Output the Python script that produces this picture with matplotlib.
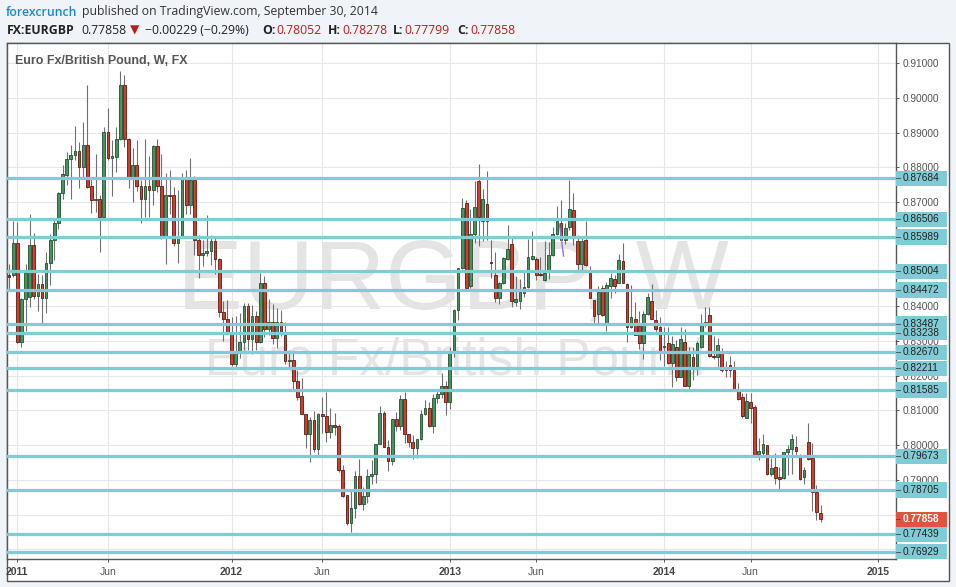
#!/usr/bin/env python3
"""EUR/GBP weekly candles with horizontal support / resistance levels (TradingView snapshot)."""
import numpy as np
import pandas as pd

import matplotlib
matplotlib.use("Agg")
import matplotlib.pyplot as plt
import matplotlib.transforms as mtransforms
from matplotlib.patches import Rectangle
from matplotlib.lines import Line2D

W, H = 956, 587

# weekly bars, first bar = week of 20 Dec 2010
first_week = "2010-12-20"

opens = [
    0.8490, 0.8489, 0.8583, 0.8297, 0.8420, 0.8427, 0.8576, 0.8430, 0.8463, 0.8425,
    0.8526, 0.8590, 0.8640, 0.8725, 0.8778, 0.8823, 0.8836, 0.8848, 0.8802, 0.8864,
    0.8746, 0.8706, 0.8708, 0.8658, 0.8903, 0.8828, 0.8830, 0.8881, 0.9038, 0.8881,
    0.8771, 0.8807, 0.8746, 0.8708, 0.8746, 0.8735, 0.8861, 0.8746, 0.8603, 0.8720,
    0.8720, 0.8583, 0.8600, 0.8773, 0.8693, 0.8765, 0.8590, 0.8549, 0.8553, 0.8559,
    0.8588, 0.8535, 0.8383, 0.8363, 0.8327, 0.8233, 0.8265, 0.8296, 0.8401, 0.8306,
    0.8372, 0.8298, 0.8466, 0.8334, 0.8356, 0.8308, 0.8354, 0.8318, 0.8241, 0.8245,
    0.8184, 0.8142, 0.8089, 0.8032, 0.8073, 0.7988, 0.8089, 0.8084, 0.8037, 0.8057,
    0.8055, 0.7928, 0.7856, 0.7775, 0.7818, 0.7911, 0.7830, 0.7854, 0.7911, 0.7917,
    0.8002, 0.8092, 0.7996, 0.7953, 0.8076, 0.8056, 0.8132, 0.8032, 0.8008, 0.7991,
    0.8018, 0.8089, 0.8106, 0.8055, 0.8135, 0.8147, 0.8169, 0.8125, 0.8269, 0.8389,
    0.8509, 0.8697, 0.8457, 0.8607, 0.8761, 0.8646, 0.8695, 0.8528, 0.8490, 0.8423,
    0.8466, 0.8535, 0.8578, 0.8411, 0.8416, 0.8437, 0.8455, 0.8535, 0.8535, 0.8493,
    0.8476, 0.8503, 0.8548, 0.8607, 0.8639, 0.8591, 0.8627, 0.8677, 0.8588, 0.8521,
    0.8591, 0.8495, 0.8418, 0.8377, 0.8452, 0.8353, 0.8458, 0.8479, 0.8466, 0.8530,
    0.8463, 0.8339, 0.8364, 0.8343, 0.8293, 0.8378, 0.8415, 0.8361, 0.8339, 0.8284,
    0.8295, 0.8238, 0.8282, 0.8197, 0.8296, 0.8169, 0.8253, 0.8229, 0.8284, 0.8346,
    0.8375, 0.8258, 0.8255, 0.8267, 0.8219, 0.8230, 0.8215, 0.8161, 0.8138, 0.8079,
    0.8123, 0.8110, 0.7974, 0.7977, 0.8001, 0.7916, 0.7938, 0.7909, 0.7905, 0.7979,
    0.7988, 0.7994, 0.7967, 0.7908, 0.8009, 0.7964, 0.7865, 0.78052,
]
highs = [
    0.8522, 0.8645, 0.8643, 0.8425, 0.8523, 0.8667, 0.8611, 0.8494, 0.8490, 0.8557,
    0.8609, 0.8655, 0.8730, 0.8807, 0.8845, 0.8864, 0.8919, 0.8874, 0.8931, 0.9038,
    0.8773, 0.8840, 0.8720, 0.8917, 0.8970, 0.8879, 0.8917, 0.9078, 0.9066, 0.8885,
    0.8855, 0.8879, 0.8765, 0.8881, 0.8832, 0.8864, 0.8881, 0.8838, 0.8785, 0.8792,
    0.8745, 0.8735, 0.8783, 0.8792, 0.8826, 0.8775, 0.8605, 0.8590, 0.8663, 0.8606,
    0.8603, 0.8540, 0.8414, 0.8418, 0.8370, 0.8372, 0.8380, 0.8409, 0.8409, 0.8404,
    0.8385, 0.8496, 0.8486, 0.8421, 0.8407, 0.8394, 0.8390, 0.8356, 0.8274, 0.8270,
    0.8217, 0.8193, 0.8089, 0.8080, 0.8099, 0.8092, 0.8140, 0.8152, 0.8106, 0.8092,
    0.8060, 0.7942, 0.7856, 0.7868, 0.7924, 0.7960, 0.7880, 0.7930, 0.7958, 0.8002,
    0.8113, 0.8097, 0.8015, 0.8076, 0.8095, 0.8144, 0.8152, 0.8032, 0.8029, 0.8018,
    0.8101, 0.8130, 0.8125, 0.8147, 0.8160, 0.8207, 0.8185, 0.8284, 0.8391, 0.8509,
    0.8713, 0.8706, 0.8679, 0.8761, 0.8810, 0.8737, 0.8790, 0.8591, 0.8557, 0.8471,
    0.8543, 0.8634, 0.8601, 0.8487, 0.8480, 0.8505, 0.8593, 0.8618, 0.8543, 0.8543,
    0.8588, 0.8586, 0.8629, 0.8689, 0.8706, 0.8639, 0.8764, 0.8727, 0.8605, 0.8598,
    0.8646, 0.8516, 0.8418, 0.8457, 0.8461, 0.8471, 0.8495, 0.8490, 0.8552, 0.8582,
    0.8466, 0.8461, 0.8413, 0.8386, 0.8387, 0.8439, 0.8464, 0.8389, 0.8368, 0.8341,
    0.8341, 0.8315, 0.8303, 0.8341, 0.8334, 0.8282, 0.8282, 0.8300, 0.8378, 0.8399,
    0.8399, 0.8313, 0.8308, 0.8279, 0.8241, 0.8257, 0.8243, 0.8180, 0.8149, 0.8149,
    0.8149, 0.8116, 0.8020, 0.8032, 0.8001, 0.7964, 0.7977, 0.7936, 0.7981, 0.8001,
    0.8032, 0.8025, 0.7975, 0.7936, 0.8063, 0.8007, 0.7885, 0.78278,
]
lows = [
    0.8448, 0.8484, 0.8295, 0.8283, 0.8330, 0.8398, 0.8421, 0.8387, 0.8353, 0.8381,
    0.8460, 0.8532, 0.8624, 0.8710, 0.8749, 0.8710, 0.8820, 0.8740, 0.8773, 0.8740,
    0.8670, 0.8673, 0.8556, 0.8654, 0.8822, 0.8717, 0.8787, 0.8879, 0.8860, 0.8741,
    0.8701, 0.8733, 0.8640, 0.8658, 0.8658, 0.8691, 0.8729, 0.8595, 0.8523, 0.8667,
    0.8574, 0.8526, 0.8598, 0.8667, 0.8667, 0.8547, 0.8482, 0.8515, 0.8544, 0.8520,
    0.8492, 0.8370, 0.8300, 0.8325, 0.8228, 0.8226, 0.8250, 0.8274, 0.8274, 0.8263,
    0.8274, 0.8295, 0.8311, 0.8318, 0.8292, 0.8279, 0.8315, 0.8234, 0.8224, 0.8161,
    0.8130, 0.8089, 0.7993, 0.7950, 0.7979, 0.7972, 0.8035, 0.8010, 0.8020, 0.8030,
    0.7923, 0.7850, 0.7770, 0.7751, 0.7790, 0.7828, 0.7814, 0.7832, 0.7887, 0.7890,
    0.8002, 0.7996, 0.7924, 0.7943, 0.8042, 0.8044, 0.8006, 0.7996, 0.7959, 0.7964,
    0.8015, 0.8087, 0.8053, 0.8034, 0.8121, 0.8135, 0.8088, 0.8103, 0.8255, 0.8361,
    0.8506, 0.8452, 0.8452, 0.8581, 0.8575, 0.8589, 0.8591, 0.8481, 0.8413, 0.8407,
    0.8464, 0.8533, 0.8397, 0.8401, 0.8391, 0.8428, 0.8452, 0.8533, 0.8476, 0.8487,
    0.8474, 0.8478, 0.8545, 0.8605, 0.8591, 0.8579, 0.8620, 0.8576, 0.8505, 0.8505,
    0.8516, 0.8423, 0.8353, 0.8353, 0.8373, 0.8330, 0.8423, 0.8437, 0.8466, 0.8466,
    0.8298, 0.8337, 0.8317, 0.8276, 0.8247, 0.8375, 0.8362, 0.8327, 0.8245, 0.8229,
    0.8234, 0.8166, 0.8186, 0.8196, 0.8169, 0.8163, 0.8188, 0.8202, 0.8279, 0.8341,
    0.8255, 0.8247, 0.8224, 0.8212, 0.8196, 0.8196, 0.8159, 0.8130, 0.8077, 0.8079,
    0.8063, 0.7967, 0.7957, 0.7972, 0.7914, 0.7911, 0.7888, 0.7873, 0.7902, 0.7914,
    0.7916, 0.7967, 0.7900, 0.7888, 0.7957, 0.7809, 0.7783, 0.77799,
]
closes = [
    0.8485, 0.8583, 0.8297, 0.8420, 0.8496, 0.8576, 0.8430, 0.8463, 0.8425, 0.8526,
    0.8590, 0.8640, 0.8725, 0.8781, 0.8823, 0.8836, 0.8848, 0.8802, 0.8864, 0.8744,
    0.8706, 0.8708, 0.8658, 0.8903, 0.8828, 0.8832, 0.8881, 0.9038, 0.8881, 0.8771,
    0.8807, 0.8746, 0.8708, 0.8746, 0.8735, 0.8861, 0.8746, 0.8600, 0.8720, 0.8719,
    0.8583, 0.8600, 0.8773, 0.8693, 0.8765, 0.8590, 0.8549, 0.8553, 0.8559, 0.8588,
    0.8535, 0.8383, 0.8363, 0.8327, 0.8233, 0.8265, 0.8297, 0.8401, 0.8306, 0.8372,
    0.8298, 0.8466, 0.8334, 0.8356, 0.8308, 0.8354, 0.8322, 0.8241, 0.8245, 0.8184,
    0.8140, 0.8089, 0.8032, 0.8073, 0.7988, 0.8089, 0.8084, 0.8037, 0.8057, 0.8053,
    0.7928, 0.7854, 0.7775, 0.7818, 0.7911, 0.7830, 0.7854, 0.7911, 0.7917, 0.8002,
    0.8092, 0.7996, 0.7953, 0.8076, 0.8056, 0.8132, 0.8032, 0.8008, 0.7991, 0.8018,
    0.8089, 0.8106, 0.8055, 0.8135, 0.8147, 0.8169, 0.8125, 0.8269, 0.8389, 0.8509,
    0.8682, 0.8452, 0.8607, 0.8687, 0.8656, 0.8708, 0.8646, 0.8524, 0.8423, 0.8466,
    0.8538, 0.8565, 0.8415, 0.8420, 0.8442, 0.8455, 0.8543, 0.8545, 0.8490, 0.8491,
    0.8495, 0.8548, 0.8607, 0.8647, 0.8591, 0.8625, 0.8679, 0.8603, 0.8521, 0.8588,
    0.8519, 0.8423, 0.8372, 0.8442, 0.8375, 0.8461, 0.8482, 0.8457, 0.8533, 0.8466,
    0.8341, 0.8368, 0.8318, 0.8293, 0.8378, 0.8428, 0.8362, 0.8334, 0.8272, 0.8286,
    0.8238, 0.8291, 0.8197, 0.8305, 0.8169, 0.8262, 0.8229, 0.8293, 0.8353, 0.8354,
    0.8258, 0.8255, 0.8289, 0.8217, 0.8217, 0.8215, 0.8161, 0.8132, 0.8084, 0.8128,
    0.8108, 0.7970, 0.7983, 0.8004, 0.7916, 0.7933, 0.7905, 0.7902, 0.7979, 0.7990,
    0.8019, 0.7984, 0.7902, 0.7927, 0.7959, 0.7866, 0.78087, 0.77858,
]

# horizontal levels drawn on the chart
levels = [0.87684, 0.86506, 0.85989, 0.85004, 0.84472, 0.83487, 0.83238,
          0.82670, 0.82211, 0.81585, 0.79673, 0.78705, 0.77439, 0.76929]

# small purple drawing near the 2013 summer highs (bar index, price)
pen_x = [133.6, 134.6]
pen_y = [0.8637, 0.8545]

price_ticks = [0.77, 0.78, 0.79, 0.80, 0.81, 0.82, 0.83, 0.84,
               0.85, 0.86, 0.87, 0.88, 0.89, 0.90, 0.91]
tick_dates = ["2011-01-01", "2011-06-01", "2012-01-01", "2012-06-01", "2013-01-01",
              "2013-06-01", "2014-01-01", "2014-06-01", "2015-01-01"]
tick_labels = ["2011", "Jun", "2012", "Jun", "2013", "Jun", "2014", "Jun", "2015"]

UP_FILL, UP_EDGE = "#46935f", "#1f4f31"
DN_FILL, DN_EDGE = "#cc3f2c", "#5b1a13"
WICK = "#707070"
CYAN = "#80cbd6"
RED_TXT = "#b3201c"
FRAME = "#555555"


def fx(x):
    return x / W


def fy(y):
    return 1 - y / H


def bar_index(dates, start):
    d = (pd.to_datetime(dates) - pd.Timestamp(start)).days.values
    return np.ceil(d / 7.0)


def main():
    plt.rcParams["font.family"] = ["Liberation Sans", "DejaVu Sans"]
    hdr_font = ["Open Sans", "DejaVu Sans"]

    o = np.array(opens); h = np.array(highs); l = np.array(lows); c = np.array(closes)
    x = np.arange(len(o))

    fig = plt.figure(figsize=(W / 100, H / 100), dpi=100, facecolor="#f0f3f7")

    # white panel incl. price scale and time scale (behind the axes)
    fig.patches.append(Rectangle((fx(6.5), fy(580.5)), (949 - 6.5) / W, (580.5 - 43) / H,
                                 transform=fig.transFigure, facecolor="white",
                                 edgecolor=FRAME, lw=1.0, zorder=-1))

    ax = fig.add_axes([fx(7), fy(559), 889 / W, 516 / H])
    ax.set_zorder(1)
    ax.set_facecolor("white")
    ax.set_xlim(-0.5, 215.3)
    ax.set_ylim(0.76719, 0.91585)
    y_per_px = (ax.get_ylim()[1] - ax.get_ylim()[0]) / 516

    # scale labels that sit (almost) fully under a level box are left blank
    boxed = levels + [closes[-1]]
    ylabels = []
    for v in price_ticks:
        hidden = min(abs(v - b) for b in boxed) < 5.5 * y_per_px
        ylabels.append("" if hidden else f"{v:.5f}")
    ax.set_yticks(price_ticks)
    ax.set_yticklabels(ylabels)
    xt = bar_index(tick_dates, first_week)
    ax.set_xticks(xt)
    ax.set_xticklabels(tick_labels)
    ax.grid(True, color="#e6e6e6", lw=0.8)
    ax.set_axisbelow(True)
    for s in ax.spines.values():
        s.set_color(FRAME); s.set_linewidth(1.0)

    ax.yaxis.tick_right()
    ax.tick_params(axis="y", direction="out", length=2.5, width=0.7, pad=2,
                   labelsize=7.3, color=FRAME, labelcolor="#555555")
    ax.tick_params(axis="x", direction="out", length=2.5, width=0.7, pad=3,
                   labelsize=7.5, color=FRAME, labelcolor="#555555")
    for lab in ax.get_xticklabels():
        if lab.get_text() != "Jun":
            lab.set_fontweight("bold"); lab.set_color("#444444")

    # watermark
    ax.text(0.502, 0.486, "EURGBP, W", transform=ax.transAxes, ha="center", va="baseline",
            fontsize=71, color="#e4e4e4", zorder=1)
    ax.text(0.504, 0.357, "Euro Fx/British Pound", transform=ax.transAxes, ha="center",
            va="baseline", fontsize=37, color="#e4e4e4", zorder=1)

    # candles
    up = c >= o
    body_lo = np.minimum(o, c)
    body_h = np.maximum(np.abs(c - o), 0.00012)
    ax.vlines(x, l, h, color=WICK, lw=0.8, zorder=2)
    ax.bar(x[up], body_h[up], 0.66, bottom=body_lo[up], color=UP_FILL,
           edgecolor=UP_EDGE, lw=0.6, zorder=3)
    ax.bar(x[~up], body_h[~up], 0.66, bottom=body_lo[~up], color=DN_FILL,
           edgecolor=DN_EDGE, lw=0.6, zorder=3)

    ax.plot(pen_x, pen_y, color="#9b6fd1", lw=1.0, zorder=3.5)

    # horizontal levels + their price-scale labels
    for lev in levels:
        ax.axhline(lev, color=CYAN, lw=2.3, zorder=4)

    blend = mtransforms.blended_transform_factory(ax.transAxes, ax.transData)
    ax_w = 889.0
    box_h = y_per_px * 15.5

    def scale_label(val, face, txt_color, weight="normal"):
        ax.add_patch(Rectangle((1.0, val - box_h / 2), 51.5 / ax_w, box_h, transform=blend,
                               facecolor=face, edgecolor="none", clip_on=False, zorder=6))
        ax.add_line(Line2D([1.0, 1.0 + 3.5 / ax_w], [val, val], transform=blend,
                           color=FRAME, lw=0.7, clip_on=False, zorder=7))
        ax.text(1.0 + 6.5 / ax_w, val, f"{val:.5f}", transform=blend, ha="left", va="center",
                fontsize=7.3, color=txt_color, fontweight=weight, clip_on=False, zorder=7)

    for lev in levels:
        scale_label(lev, CYAN, "#222222")
    scale_label(c[-1], "#e0533e", "white", "bold")

    # chart title
    fig.text(fx(15), fy(61), "Euro Fx/British Pound, W, FX", fontsize=8.9,
             fontweight="bold", color="#555555", va="center", zorder=5)

    # header
    fig.text(fx(6), fy(12), "forexcrunch", fontsize=8.8, fontweight="semibold",
             color="#1a8ac6", va="center", family=hdr_font)
    fig.text(fx(82), fy(12), "published on TradingView.com, September 30, 2014",
             fontsize=8.8, color="#333333", va="center", family=hdr_font)

    chg = c[-1] - c[-2]
    pct = 100 * chg / c[-2]
    pieces = [
        (7, "FX:EURGBP", "bold", "#222222"),
        (81, f"{c[-1]:.5f}", "normal", "#222222"),
        (130, "\u25BC", "normal", RED_TXT),
        (145, f"\u2212{abs(chg):.5f} (\u2212{abs(pct):.2f}%)", "normal", "#222222"),
        (262, "O:", "bold", "#222222"),
        (276, f"{o[-1]:.5f}", "normal", RED_TXT),
        (328, "H:", "bold", "#222222"),
        (342, f"{h[-1]:.5f}", "normal", RED_TXT),
        (393, "L:", "bold", "#222222"),
        (404, f"{l[-1]:.5f}", "normal", RED_TXT),
        (457, "C:", "bold", "#222222"),
        (470, f"{c[-1]:.5f}", "normal", RED_TXT),
    ]
    for xp, s, wt, col in pieces:
        fig.text(fx(xp), fy(30), s, fontsize=8.8, fontweight=wt, color=col,
                 va="center", family=hdr_font)

    fig.savefig("out.png", dpi=100, facecolor=fig.get_facecolor())
    plt.close(fig)


if __name__ == "__main__":
    main()
